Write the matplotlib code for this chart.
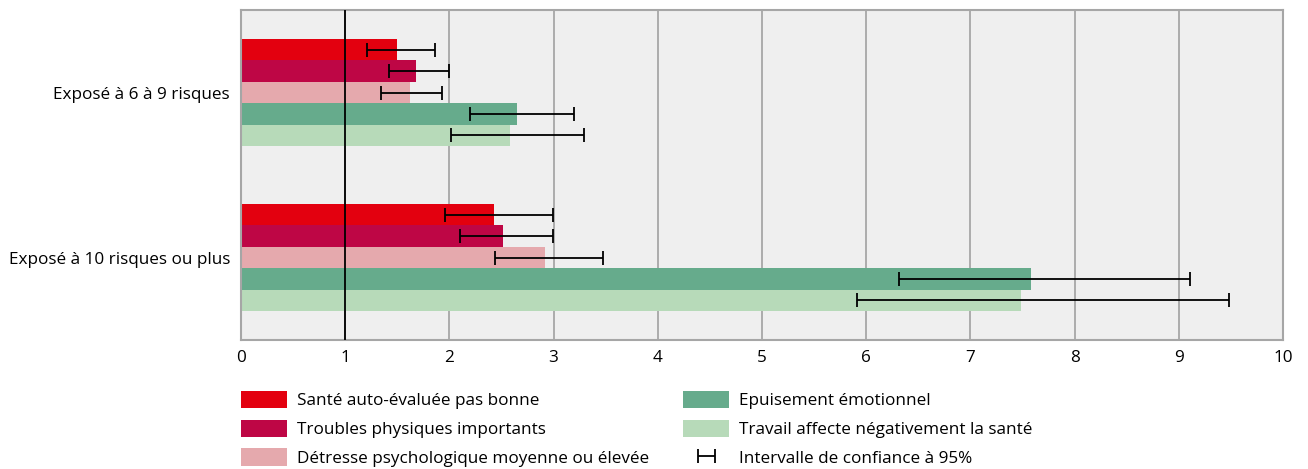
import numpy as np
import matplotlib.pyplot as plt

plt.rcParams['font.family'] = ['Open Sans', 'DejaVu Sans']

groups = ['Exposé à 6 à 9 risques', 'Exposé à 10 risques ou plus']
series = ['Santé auto-évaluée pas bonne', 'Troubles physiques importants',
          'Détresse psychologique moyenne ou élevée', 'Epuisement émotionnel',
          'Travail affecte négativement la santé']
colors = ['#e3000f', '#be0645', '#e5a9ad', '#66ab8c', '#b7dab9']
ci_label = 'Intervalle de confiance à 95%'

# odds ratios, one row per series: [6-9 risks, 10+ risks]
odds = [[1.50, 2.43],
        [1.68, 2.51],
        [1.62, 2.92],
        [2.65, 7.58],
        [2.58, 7.49]]
ci_low = [[1.21, 1.96],
          [1.42, 2.10],
          [1.34, 2.44],
          [2.20, 6.31],
          [2.02, 5.91]]
ci_high = [[1.86, 2.99],
           [2.00, 2.99],
           [1.93, 3.47],
           [3.20, 9.11],
           [3.29, 9.48]]

fs = 12.3
fig = plt.figure(figsize=(13.08, 4.69), dpi=100)
ax = fig.add_axes([241/1308, 1-340/469, 1042/1308, 330/469])
ax.set_facecolor('#efefef')

bar_h = 0.13
y0 = np.arange(len(groups))
for i, name in enumerate(series):
    y = y0 - 2*bar_h + i*bar_h
    val = np.array(odds[i])
    ax.barh(y, val, height=bar_h, color=colors[i], label=name, zorder=2)
    lo = val - np.array(ci_low[i])
    hi = np.array(ci_high[i]) - val
    ax.errorbar(val, y, xerr=[lo, hi], fmt='none', ecolor='black',
                elinewidth=1.3, capsize=5, capthick=1.3, zorder=4,
                label=ci_label if i == 0 else None)

ax.axvline(1, color='black', lw=1.3, zorder=3)
ax.set_xlim(0, 10)
ax.set_ylim(1.5, -0.5)
ax.set_xticks(range(11))
ax.xaxis.grid(True, color='#a6a6a6', lw=1.3, zorder=1)
ax.set_axisbelow(True)
ax.set_yticks(y0)
ax.set_yticklabels(groups)
ax.tick_params(axis='y', length=0, pad=8, labelsize=fs)
ax.tick_params(axis='x', length=0, pad=7, labelsize=fs)
for s in ax.spines.values():
    s.set_color('#a6a6a6')
    s.set_linewidth(1.5)

handles, labels = ax.get_legend_handles_labels()
lookup = dict(zip(labels, handles))
columns = [(series[:3], 241), (series[3:] + [ci_label], 683)]
for names, x in columns:
    fig.legend([lookup[n] for n in names], names, loc='upper left',
               bbox_to_anchor=(x/1308, 1-391/469), frameon=False, fontsize=fs,
               handlelength=2.7, handleheight=1.18, handletextpad=0.6,
               labelspacing=0.6, borderpad=0, borderaxespad=0)

fig.savefig('out.png', dpi=100)
